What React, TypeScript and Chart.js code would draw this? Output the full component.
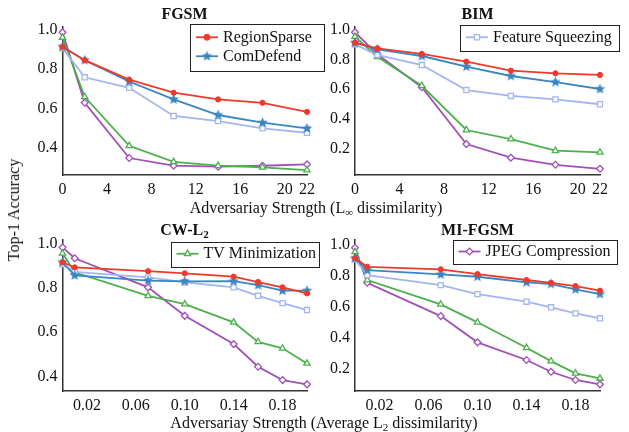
import React, { useEffect, useRef } from 'react';
import { Chart, registerables } from 'chart.js';
import { drawPoint } from 'chart.js/helpers';

Chart.register(...registerables);

const FONT = '"Liberation Serif", "Times New Roman", serif';

// ---------- data ----------
const seriesNames = ['RegionSparse', 'ComDefend', 'Feature Squeezing', 'TV Minimization', 'JPEG Compression'];

const linfX = [0, 2, 6, 10, 14, 18, 22];
const l2X = [0, 0.01, 0.07, 0.1, 0.14, 0.16, 0.18, 0.2];
const linfTicks = [0, 4, 8, 12, 16, 20, 22];
const l2Ticks = [0.02, 0.06, 0.1, 0.14, 0.18];
const yTicksHigh = [0.4, 0.6, 0.8, 1.0];
const yTicksLow = [0.2, 0.4, 0.6, 0.8, 1.0];

// FGSM
const fgsmRegionSparse = [0.912, 0.844, 0.745, 0.679, 0.645, 0.628, 0.582];
const fgsmComDefend = [0.912, 0.844, 0.736, 0.645, 0.566, 0.527, 0.498];
const fgsmFeatureSqueezing = [0.905, 0.757, 0.704, 0.561, 0.535, 0.498, 0.476];
const fgsmTV = [0.959, 0.658, 0.41, 0.329, 0.309, 0.301, 0.287];
const fgsmJPEG = [0.985, 0.628, 0.348, 0.309, 0.304, 0.309, 0.316];

// BIM
const bimRegionSparse = [0.914, 0.876, 0.838, 0.786, 0.725, 0.707, 0.696];
const bimComDefend = [0.914, 0.869, 0.824, 0.752, 0.689, 0.648, 0.601];
const bimFeatureSqueezing = [0.903, 0.831, 0.763, 0.594, 0.554, 0.531, 0.498];
const bimTV = [0.955, 0.819, 0.623, 0.324, 0.263, 0.184, 0.173];
const bimJPEG = [0.984, 0.836, 0.613, 0.229, 0.137, 0.089, 0.062];

// CW-L2
const cwRegionSparse = [0.915, 0.892, 0.875, 0.865, 0.85, 0.826, 0.802, 0.775];
const cwComDefend = [0.915, 0.856, 0.832, 0.829, 0.83, 0.812, 0.787, 0.787];
const cwFeatureSqueezing = [0.906, 0.872, 0.847, 0.825, 0.802, 0.764, 0.731, 0.7];
const cwTV = [0.955, 0.87, 0.764, 0.727, 0.645, 0.557, 0.528, 0.46];
const cwJPEG = [0.982, 0.933, 0.802, 0.674, 0.547, 0.445, 0.385, 0.366];

// MI-FGSM
const miRegionSparse = [0.91, 0.855, 0.839, 0.808, 0.77, 0.752, 0.731, 0.701];
const miComDefend = [0.91, 0.834, 0.806, 0.791, 0.755, 0.744, 0.71, 0.679];
const miFeatureSqueezing = [0.903, 0.802, 0.737, 0.679, 0.63, 0.594, 0.555, 0.523];
const miTV = [0.952, 0.77, 0.613, 0.497, 0.333, 0.247, 0.168, 0.135];
const miJPEG = [0.978, 0.752, 0.537, 0.368, 0.254, 0.178, 0.125, 0.097];

// ---------- styles ----------
const lineColors = ['#ee3a2c', '#3a86c2', '#a3b5f2', '#4cb04c', '#a250b8'];
const pointRadii = [2.6, 0, 3.6, 3.6, 3.4];

function makeStar(color: string, r: number) {
  const size = Math.ceil(r * 2 + 2);
  const c = document.createElement('canvas');
  c.width = size;
  c.height = size;
  const ctx = c.getContext('2d')!;
  const cx = size / 2, cy = size / 2;
  ctx.beginPath();
  for (let i = 0; i < 10; i++) {
    const rad = i % 2 === 0 ? r : r * 0.45;
    const a = -Math.PI / 2 + (i * Math.PI) / 5;
    const px = cx + rad * Math.cos(a);
    const py = cy + rad * Math.sin(a);
    if (i === 0) ctx.moveTo(px, py); else ctx.lineTo(px, py);
  }
  ctx.closePath();
  ctx.fillStyle = color;
  ctx.fill();
  return c;
}

type Area = { left: number; right: number; top: number; bottom: number };
type Panel = {
  x: number[];
  series: number[][];
  xTicks: number[];
  xDec: number;
  xMin: number;
  xMax: number;
  yTicks: number[];
  yMin: number;
  yMax: number;
  area: Area;
  legend: { items: number[]; x: number; y: number; w: number; h: number };
};

const panels: Panel[] = [
  {
    x: linfX,
    series: [fgsmRegionSparse, fgsmComDefend, fgsmFeatureSqueezing, fgsmTV, fgsmJPEG],
    xTicks: linfTicks, xDec: 0, xMin: 0, xMax: 22,
    yTicks: yTicksHigh, yMin: 0.262, yMax: 1.012,
    area: { left: 62.5, right: 307, top: 27, bottom: 175 },
    legend: { items: [0, 1], x: 190, y: 23.5, w: 133.5, h: 46.5 },
  },
  {
    x: linfX,
    series: [bimRegionSparse, bimComDefend, bimFeatureSqueezing, bimTV, bimJPEG],
    xTicks: linfTicks, xDec: 0, xMin: 0, xMax: 22,
    yTicks: yTicksLow, yMin: 0.02, yMax: 1.02,
    area: { left: 355, right: 600, top: 27, bottom: 175 },
    legend: { items: [2], x: 460, y: 24.5, w: 159, h: 25.5 },
  },
  {
    x: l2X,
    series: [cwRegionSparse, cwComDefend, cwFeatureSqueezing, cwTV, cwJPEG],
    xTicks: l2Ticks, xDec: 2, xMin: 0, xMax: 0.2,
    yTicks: yTicksHigh, yMin: 0.336, yMax: 1.015,
    area: { left: 62.5, right: 307, top: 240, bottom: 391 },
    legend: { items: [3], x: 170.5, y: 241.5, w: 147.5, h: 24.5 },
  },
  {
    x: l2X,
    series: [miRegionSparse, miComDefend, miFeatureSqueezing, miTV, miJPEG],
    xTicks: l2Ticks, xDec: 2, xMin: 0, xMax: 0.2,
    yTicks: yTicksLow, yMin: 0.054, yMax: 1.028,
    area: { left: 355, right: 600, top: 240, bottom: 391 },
    legend: { items: [4], x: 452.5, y: 239.5, w: 163.5, h: 24 },
  },
];

const W = 629;
const H = 432;

function makeLegendPlugin(cfg: Panel['legend']) {
  return {
    id: 'boxLegend',
    afterDraw(chart: any) {
      const ctx = chart.ctx as CanvasRenderingContext2D;
      const { x, y, w, h, items } = cfg;
      ctx.save();
      ctx.fillStyle = '#ffffff';
      ctx.fillRect(x, y, w, h);
      ctx.strokeStyle = '#222';
      ctx.lineWidth = 1;
      ctx.strokeRect(Math.round(x) + 0.5, Math.round(y) + 0.5, Math.round(w), Math.round(h));
      const rowH = 19;
      const first = y + (h - items.length * rowH) / 2 + rowH / 2;
      items.forEach((di, k) => {
        const ds = chart.data.datasets[di];
        const cy = first + k * rowH;
        const x0 = x + 6;
        const x1 = x + 28;
        ctx.strokeStyle = ds.borderColor;
        ctx.lineWidth = 1.8;
        ctx.beginPath();
        ctx.moveTo(x0, cy);
        ctx.lineTo(x1, cy);
        ctx.stroke();
        ctx.fillStyle = ds.pointBackgroundColor;
        ctx.strokeStyle = ds.borderColor;
        ctx.lineWidth = ds.pointBorderWidth;
        drawPoint(ctx, { pointStyle: ds.pointStyle, radius: Math.max(ds.pointRadius, 3), rotation: 0, borderWidth: ds.pointBorderWidth } as any, (x0 + x1) / 2, cy);
        ctx.fillStyle = '#111';
        ctx.font = `16px ${FONT}`;
        ctx.textBaseline = 'middle';
        ctx.textAlign = 'left';
        ctx.fillText(ds.label, x + 33, cy + 0.5);
      });
      ctx.restore();
    },
  };
}

function buildChart(canvas: HTMLCanvasElement, p: Panel, star: HTMLCanvasElement) {
  const yW = 40;
  const xH = 30;
  const styles: any[] = ['circle', star, 'rect', 'triangle', 'rectRot'];
  const fills = [lineColors[0], lineColors[1], '#ffffff', '#ffffff', '#ffffff'];
  const datasets = p.series.map((ys, i) => ({
    label: seriesNames[i],
    data: p.x.map((xv, j) => ({ x: xv, y: ys[j] })),
    borderColor: lineColors[i],
    backgroundColor: fills[i],
    pointBackgroundColor: fills[i],
    pointBorderColor: lineColors[i],
    pointBorderWidth: i < 2 ? 1 : 1.3,
    pointStyle: styles[i],
    pointRadius: i === 1 ? 5 : pointRadii[i],
    borderWidth: 1.8,
    tension: 0,
    clip: false as any,
  }));
  return new Chart(canvas, {
    type: 'line',
    data: { datasets },
    options: {
      responsive: false,
      animation: false,
      devicePixelRatio: 1,
      events: [],
      layout: {
        padding: {
          left: p.area.left - yW,
          right: W - p.area.right,
          top: p.area.top,
          bottom: H - p.area.bottom - xH,
        },
      },
      plugins: { legend: { display: false }, tooltip: { enabled: false }, title: { display: false } },
      scales: {
        x: {
          type: 'linear',
          min: p.xMin,
          max: p.xMax,
          afterFit: (s: any) => { s.height = xH; },
          afterBuildTicks: (s: any) => { s.ticks = p.xTicks.map((v) => ({ value: v })); },
          ticks: {
            autoSkip: false,
            maxRotation: 0,
            padding: 5,
            color: '#111',
            font: { family: FONT, size: 16 },
            callback: (v: any) => Number(v).toFixed(p.xDec),
          },
          grid: { display: false, drawTicks: false },
          border: { display: true, color: '#333', width: 1.5 },
        },
        y: {
          type: 'linear',
          min: p.yMin,
          max: p.yMax,
          afterFit: (s: any) => { s.width = yW; },
          afterBuildTicks: (s: any) => { s.ticks = p.yTicks.map((v) => ({ value: v })); },
          ticks: {
            padding: 5,
            color: '#111',
            font: { family: FONT, size: 16 },
            callback: (v: any) => Number(v).toFixed(1),
          },
          grid: { display: false, drawTicks: false },
          border: { display: true, color: '#333', width: 1.5 },
        },
      },
    },
    plugins: [makeLegendPlugin(p.legend)],
  } as any);
}

const textBase: React.CSSProperties = {
  position: 'absolute',
  fontFamily: FONT,
  fontSize: 16,
  lineHeight: 1,
  whiteSpace: 'nowrap',
  color: '#111',
  transform: 'translate(-50%, -50%)',
};

const subStyle: React.CSSProperties = {
  fontSize: 11,
  verticalAlign: 'baseline',
  position: 'relative',
  top: 3,
};

export default function App() {
  const refs = [useRef<HTMLCanvasElement>(null), useRef<HTMLCanvasElement>(null), useRef<HTMLCanvasElement>(null), useRef<HTMLCanvasElement>(null)];

  useEffect(() => {
    const star = makeStar(lineColors[1], 5.5);
    const charts = panels.map((p, i) => buildChart(refs[i].current!, p, star));
    return () => charts.forEach((c) => c.destroy());
  }, []);

  return (
    <div style={{ position: 'absolute', left: 0, top: 0, width: W, height: H, background: '#fff', overflow: 'hidden' }}>
      {refs.map((r, i) => (
        <canvas key={i} ref={r} width={W} height={H} style={{ position: 'absolute', left: 0, top: 0, width: W, height: H }} />
      ))}
      <div style={{ ...textBase, left: 184.5, top: 14, fontWeight: 'bold' }}>FGSM</div>
      <div style={{ ...textBase, left: 477.5, top: 14, fontWeight: 'bold' }}>BIM</div>
      <div style={{ ...textBase, left: 184.5, top: 230, fontWeight: 'bold' }}>
        CW-L<span style={subStyle}>2</span>
      </div>
      <div style={{ ...textBase, left: 477.5, top: 230, fontWeight: 'bold' }}>MI-FGSM</div>
      <div style={{ ...textBase, left: 316, top: 208 }}>
        Adversariay Strength (L<span style={subStyle}>∞</span> dissimilarity)
      </div>
      <div style={{ ...textBase, left: 324, top: 423 }}>
        Adversariay Strength (Average L<span style={subStyle}>2</span> dissimilarity)
      </div>
      <div style={{ ...textBase, left: 14, top: 210, transform: 'translate(-50%, -50%) rotate(-90deg)' }}>
        Top-1 Accuracy
      </div>
    </div>
  );
}
